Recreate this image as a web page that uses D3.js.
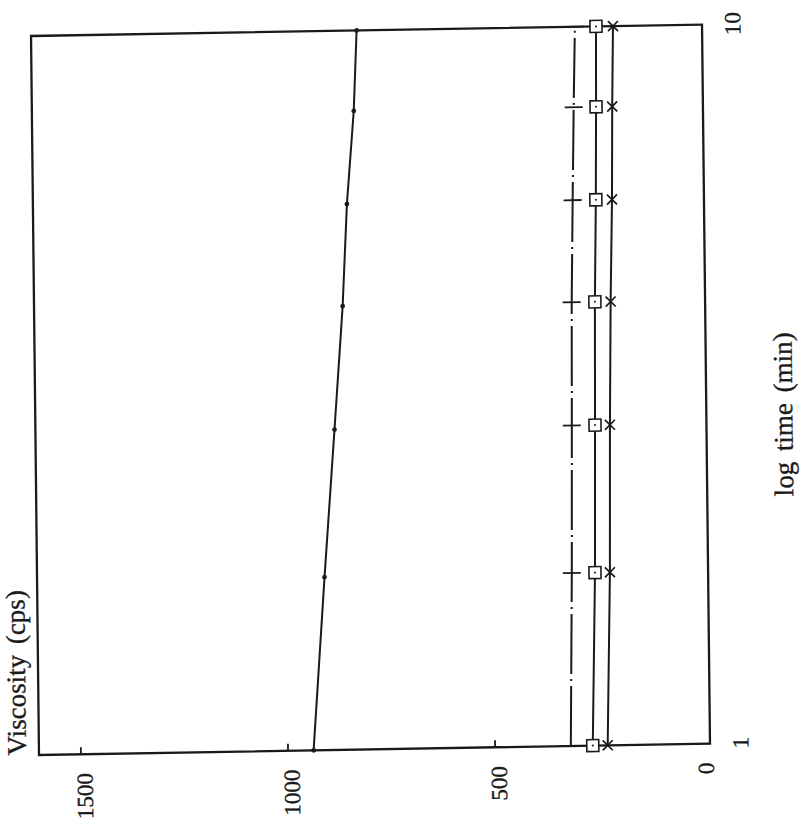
<!DOCTYPE html>
<html>
<head>
<meta charset="utf-8">
<script src="https://cdn.jsdelivr.net/npm/d3@7"></script>
<style>
  body { margin: 0; background: #fff; }
  text { font-family: "Liberation Serif", "DejaVu Serif", serif; fill: #1a1a1a; stroke: #1a1a1a; stroke-width: 0.35px; }
</style>
</head>
<body>
<div class="viscosity-plot"></div>
<script>
const times = [1, 1.74, 2.79, 4.14, 5.74, 7.73, 10];
const viscDots = [937, 906, 878, 855, 842, 823, 814];
const viscBars = [316, 309, 305, 302, 297, 292, 287];
const viscSquares = [263, 253, 249, 246, 241, 238, 236];
const viscCrosses = [227, 217, 213, 208, 202, 199, 195];
const viscTicks = [0, 500, 1000, 1500];
const timeTicks = [1, 10];

const width = 801;
const height = 830;
const W = 719;
const H = 671;
const ink = '#1a1a1a';

const svg = d3.select('.viscosity-plot')
    .append('svg')
    .attr('width', width)
    .attr('height', height)
    .attr('font-family', '"Liberation Serif", serif')

svg.append('rect')
    .attr('width', width)
    .attr('height', height)
    .attr('fill', '#fff')

// chart is drawn upright, then turned on its side like the scanned page
const g = svg.append('g')
    .attr('transform', 'matrix(-0.0111,-1,1,-0.017,39,755)')

const x = d3.scaleLog().domain([1, 10]).range([0, W]);
const y = d3.scaleLinear().domain([-20, 1600]).range([H, 0]);

g.append('rect')
    .attr('x', 0)
    .attr('y', 0)
    .attr('width', W)
    .attr('height', H)
    .attr('fill', 'none')
    .attr('stroke', ink)
    .attr('stroke-width', 2.3)

const yAxis = g.append('g')
    .call(d3.axisLeft(y).tickValues(viscTicks).tickFormat(d3.format('d')).tickSize(-7).tickPadding(19))
yAxis.select('.domain').remove()
yAxis.selectAll('line')
    .attr('stroke', ink)
    .attr('stroke-width', 1.8)
    .attr('opacity', d => d === 0 ? 0 : 1)
yAxis.selectAll('text')
    .attr('dy', '0.5em')
    .attr('font-size', 23)
    .attr('fill', ink)

const xAxis = g.append('g')
    .attr('transform', `translate(0,${H})`)
    .call(d3.axisBottom(x).tickValues(timeTicks).tickFormat(d3.format('d')).tickSize(0).tickPadding(22))
xAxis.select('.domain').remove()
xAxis.selectAll('text')
    .attr('font-size', 23)
    .attr('fill', ink)

g.append('text')
    .attr('x', 0)
    .attr('y', -13)
    .attr('font-size', 27)
    .attr('word-spacing', 4)
    .text('Viscosity (cps)')

g.append('text')
    .attr('x', 328)
    .attr('y', H + 86)
    .attr('text-anchor', 'middle')
    .attr('font-size', 27)
    .attr('word-spacing', 4)
    .text('log time (min)')

const line = d3.line()
    .x(d => x(d[0]))
    .y(d => y(d[1]))

const series = [
    { name: 'dots', values: viscDots, dash: null },
    { name: 'bars', values: viscBars, dash: '60,5,2,5' },
    { name: 'squares', values: viscSquares, dash: null },
    { name: 'crosses', values: viscCrosses, dash: null }
]

series.forEach(s => {
    const pts = times.map((t, i) => [t, s.values[i]])
    g.append('path')
        .datum(pts)
        .attr('d', line)
        .attr('fill', 'none')
        .attr('stroke', ink)
        .attr('stroke-width', 2)
        .attr('stroke-dasharray', s.dash)

    const marks = g.selectAll('.mark-' + s.name)
        .data(pts)
        .enter()
        .append('g')
        .attr('class', 'mark-' + s.name)
        .attr('transform', d => `translate(${x(d[0])},${y(d[1])})`)

    if (s.name === 'dots') {
        marks.append('circle')
            .attr('r', 2.4)
            .attr('fill', ink)
    } else if (s.name === 'bars') {
        marks.append('line')
            .attr('x1', 0).attr('x2', 0)
            .attr('y1', -9).attr('y2', 9)
            .attr('stroke', ink)
            .attr('stroke-width', 1.8)
    } else if (s.name === 'squares') {
        marks.append('rect')
            .attr('x', -6).attr('y', -6)
            .attr('width', 12).attr('height', 12)
            .attr('fill', '#fff')
            .attr('stroke', ink)
            .attr('stroke-width', 1.6)
        marks.append('circle')
            .attr('r', 1)
            .attr('fill', ink)
    } else {
        marks.append('path')
            .attr('d', 'M-5,-5L5,5M-5,5L5,-5')
            .attr('stroke', ink)
            .attr('stroke-width', 1.7)
    }
})
</script>
</body>
</html>
